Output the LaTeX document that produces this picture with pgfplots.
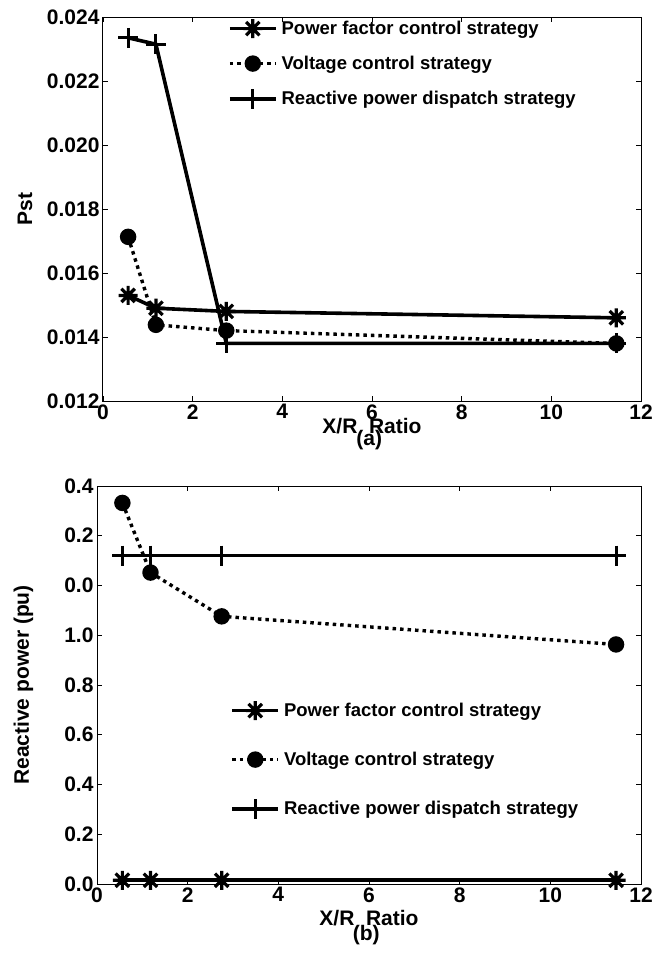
\documentclass[border=0pt]{standalone}
\usepackage{fontspec}
\setmainfont{Liberation Sans}
\usepackage{pgfplots}
\pgfplotsset{compat=1.18}

% matlab style 8-spoke star
\pgfdeclareplotmark{mstar}{%
  \pgfpathmoveto{\pgfqpoint{0pt}{\pgfplotmarksize}}\pgfpathlineto{\pgfqpoint{0pt}{-\pgfplotmarksize}}%
  \pgfpathmoveto{\pgfqpoint{\pgfplotmarksize}{0pt}}\pgfpathlineto{\pgfqpoint{-\pgfplotmarksize}{0pt}}%
  \pgfpathmoveto{\pgfqpoint{0.707\pgfplotmarksize}{0.707\pgfplotmarksize}}\pgfpathlineto{\pgfqpoint{-0.707\pgfplotmarksize}{-0.707\pgfplotmarksize}}%
  \pgfpathmoveto{\pgfqpoint{-0.707\pgfplotmarksize}{0.707\pgfplotmarksize}}\pgfpathlineto{\pgfqpoint{0.707\pgfplotmarksize}{-0.707\pgfplotmarksize}}%
  \pgfusepathqstroke}

\newcommand{\bigfont}{\fontsize{21}{23}\selectfont\bfseries}
\newcommand{\legfont}{\fontsize{18.5}{21}\selectfont\bfseries}

\pgfplotsset{
  legend image code/.code={\draw[mark repeat=2,mark phase=2,#1] plot coordinates {(0pt,0pt) (23pt,0pt) (46pt,0pt)};},
  mat/.style={
    scale only axis, clip=false,
    xmin=0, xmax=12, xtick={0,2,4,6,8,10,12},
    tick align=inside, major tick length=5pt,
    tick style={black, line width=0.6pt},
    axis line style={line width=1pt},
    ticklabel style={font=\bigfont},
    /pgf/number format/assume math mode=true,
    label style={font=\bigfont},
    legend style={draw=none, fill=none, font=\legfont, inner sep=0pt,
      nodes={inner xsep=4pt}},
    legend cell align=left,
  },
  pf/.style={black, line width=3.6pt, mark=mstar, mark size=9.5pt, mark options={solid, line width=3.2pt}},
  vc/.style={black, line width=3.4pt, dash pattern=on 3.5pt off 4pt, mark=*, mark size=6.5pt, mark options={solid}},
  rp/.style={black, line width=3.6pt, mark=+, mark size=10pt, mark options={solid, line width=3pt}},
}

\begin{document}
\begin{tikzpicture}
\useasboundingbox (0pt,0pt) rectangle (668pt,-967pt);

% (a)
\begin{axis}[mat,
  at={(103pt,-17pt)}, anchor=north west, width=538pt, height=384pt,
  ymin=0.012, ymax=0.024, ytick={0.012,0.014,0.016,0.018,0.020,0.022,0.024},
  scaled y ticks=false,
  yticklabel style={/pgf/number format/fixed, /pgf/number format/fixed zerofill, /pgf/number format/precision=3},
  ylabel={Pst}, ylabel style={at={(axis description cs:-0.145,0.5)}, anchor=center},
  xlabel={X/R\ \ Ratio}, xlabel style={at={(axis description cs:0.5,-0.065)}, anchor=center},
  legend style={at={(axis description cs:0.232,0.995)}, anchor=north west, row sep=16pt},
]
\addplot[pf] coordinates {(0.56,0.0153) (1.18,0.0149) (2.75,0.0148) (11.45,0.0146)};
\addlegendentry{Power factor control strategy}
\addplot[vc] coordinates {(0.56,0.01713) (1.18,0.01438) (2.75,0.0142) (11.45,0.0138)};
\addlegendentry{Voltage control strategy}
\addplot[rp] coordinates {(0.56,0.02335) (1.18,0.02315) (2.75,0.0138) (11.45,0.0138)};
\addlegendentry{Reactive power dispatch strategy}
\node[font=\bigfont] at (axis description cs:0.495,-0.102) {(a)};
\end{axis}

% (b)
\begin{axis}[mat,
  at={(97pt,-486pt)}, anchor=north west, width=544pt, height=398pt,
  ymin=0, ymax=1.6, ytick={0,0.2,0.4,0.6,0.8,1.0,1.2,1.4,1.6},
  yticklabels={0.0,0.2,0.4,0.6,0.8,1.0,0.0,0.2,0.4},
  ylabel={Reactive power (pu)}, ylabel style={at={(axis description cs:-0.135,0.5)}, anchor=center},
  xlabel={X/R\ \ Ratio}, xlabel style={at={(axis description cs:0.5,-0.085)}, anchor=center},
  legend style={at={(axis description cs:0.245,0.46)}, anchor=north west, row sep=30pt},
]
\addplot[pf] coordinates {(0.56,0.015) (1.18,0.015) (2.75,0.015) (11.45,0.015)};
\addlegendentry{Power factor control strategy}
\addplot[vc] coordinates {(0.56,1.532) (1.18,1.252) (2.75,1.076) (11.45,0.963)};
\addlegendentry{Voltage control strategy}
\addplot[rp] coordinates {(0.56,1.32) (1.18,1.32) (2.75,1.32) (11.45,1.32)};
\addlegendentry{Reactive power dispatch strategy}
\node[font=\bigfont] at (axis description cs:0.495,-0.128) {(b)};
\end{axis}
\end{tikzpicture}
\end{document}
